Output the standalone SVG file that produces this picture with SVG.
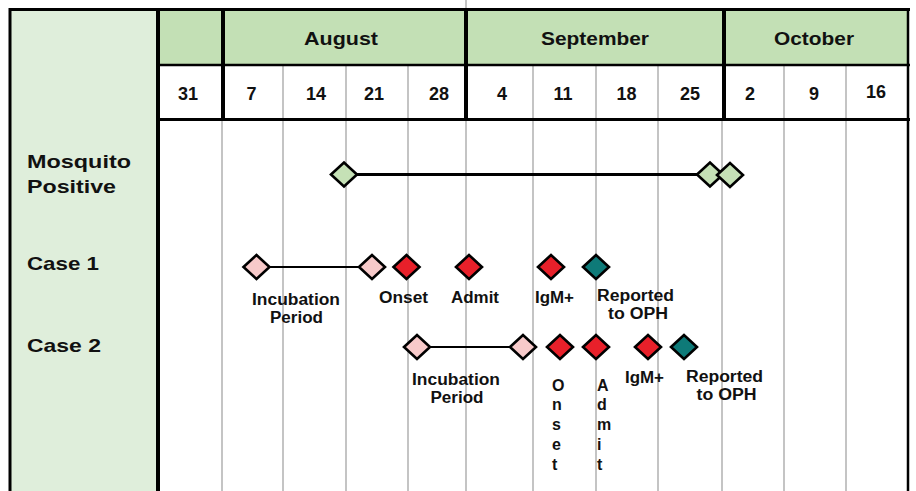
<svg xmlns="http://www.w3.org/2000/svg" xmlns:xlink="http://www.w3.org/1999/xlink" width="916" height="491" viewBox="0 0 916 491">
<style>
text{font-family:"Liberation Sans",Arial,sans-serif;font-weight:bold;fill:#111}
.hdr{font-size:18px;text-anchor:middle}
.dt{font-size:18px;text-anchor:middle}
.row{font-size:19px}
.lb{font-size:16px;text-anchor:middle}
.vt{font-size:16px}
.grid{stroke:#c4c4c4;stroke-width:2}
.thick{stroke:#000;stroke-width:4}
.dia{stroke:#000;stroke-width:2.6;stroke-linejoin:miter}
.green{fill:#c5e1b6}
.pink{fill:#f7caca}
.red{fill:#e8202a}
.teal{fill:#0e7a78}
</style>
<defs>
<path id="d" d="M-13,0 L0,-12 L13,0 L0,12 Z"/>
</defs>
<rect width="916" height="491" fill="#fff"/>
<g id="table">
<rect x="10" y="10" width="148" height="481" fill="#dfeedb"/>
<rect x="158" y="10" width="750" height="55" fill="#c3e0b5"/>
<line x1="466" y1="0" x2="466" y2="9" class="grid"/>
<g class="grid">
<line x1="222" y1="120" x2="222" y2="491"/>
<line x1="283" y1="65" x2="283" y2="491"/>
<line x1="346" y1="65" x2="346" y2="491"/>
<line x1="408" y1="65" x2="408" y2="491"/>
<line x1="466" y1="120" x2="466" y2="491"/>
<line x1="533" y1="65" x2="533" y2="491"/>
<line x1="596" y1="65" x2="596" y2="491"/>
<line x1="658" y1="65" x2="658" y2="491"/>
<line x1="722" y1="120" x2="722" y2="491"/>
<line x1="784" y1="65" x2="784" y2="491"/>
<line x1="846" y1="65" x2="846" y2="491"/>
</g>
<g class="thick">
<line x1="223" y1="10" x2="223" y2="120"/>
<line x1="466" y1="10" x2="466" y2="120"/>
<line x1="724" y1="10" x2="724" y2="120"/>
<line x1="158" y1="10" x2="158" y2="491"/>
</g>
<line x1="10" y1="9.5" x2="910" y2="9.5" stroke="#000" stroke-width="3"/>
<line x1="10" y1="8" x2="10" y2="491" stroke="#000" stroke-width="3"/>
<line x1="908" y1="8" x2="908" y2="491" stroke="#000" stroke-width="2.5"/>
<line x1="158" y1="65" x2="910" y2="65" stroke="#000" stroke-width="2.5"/>
<line x1="158" y1="119.5" x2="910" y2="119.5" stroke="#000" stroke-width="3"/>
<text class="hdr" x="341" y="45" textLength="74" lengthAdjust="spacingAndGlyphs">August</text>
<text class="hdr" x="595" y="45" textLength="108" lengthAdjust="spacingAndGlyphs">September</text>
<text class="hdr" x="814" y="45" textLength="80" lengthAdjust="spacingAndGlyphs">October</text>
<text class="dt" x="188" y="100">31</text>
<text class="dt" x="251.5" y="100">7</text>
<text class="dt" x="316" y="100">14</text>
<text class="dt" x="374" y="100">21</text>
<text class="dt" x="439" y="100">28</text>
<text class="dt" x="502" y="100">4</text>
<text class="dt" x="563" y="100">11</text>
<text class="dt" x="626.5" y="100">18</text>
<text class="dt" x="690" y="100">25</text>
<text class="dt" x="750" y="100">2</text>
<text class="dt" x="814" y="100">9</text>
<text class="dt" x="876" y="98">16</text>
<text class="row" x="27" y="168" textLength="104" lengthAdjust="spacingAndGlyphs">Mosquito</text>
<text class="row" x="27" y="192.5" textLength="89" lengthAdjust="spacingAndGlyphs">Positive</text>
<text class="row" x="27" y="270" textLength="72" lengthAdjust="spacingAndGlyphs">Case 1</text>
<text class="row" x="27" y="352" textLength="74" lengthAdjust="spacingAndGlyphs">Case 2</text>
</g>
<g id="connectors">
<line x1="356" y1="174.5" x2="698" y2="174.5" stroke="#000" stroke-width="3"/>
<line x1="268" y1="267" x2="360" y2="267" stroke="#000" stroke-width="2"/>
<line x1="428" y1="347" x2="511" y2="347" stroke="#000" stroke-width="2"/>
</g>
<g id="mosq-start"><use xlink:href="#d" class="dia green" x="344" y="174.5"/></g>
<g id="mosq-end1"><use xlink:href="#d" class="dia green" x="710" y="174.5"/></g>
<g id="mosq-end2"><use xlink:href="#d" class="dia green" x="730" y="175"/></g>
<g id="c1-inc-start"><use xlink:href="#d" class="dia pink" x="256.5" y="267"/></g>
<g id="c1-inc-end"><use xlink:href="#d" class="dia pink" x="372" y="267"/></g>
<g id="c1-onset"><use xlink:href="#d" class="dia red" x="406.5" y="267"/><text class="lb" x="403.5" y="302.5" textLength="49" lengthAdjust="spacingAndGlyphs">Onset</text></g>
<g id="c1-admit"><use xlink:href="#d" class="dia red" x="469" y="267"/><text class="lb" x="475" y="302.5" textLength="48" lengthAdjust="spacingAndGlyphs">Admit</text></g>
<g id="c1-igm"><use xlink:href="#d" class="dia red" x="551" y="267"/><text class="lb" x="554.5" y="303" textLength="39" lengthAdjust="spacingAndGlyphs">IgM+</text></g>
<g id="c1-report"><use xlink:href="#d" class="dia teal" x="596" y="267"/><text class="lb" x="635.5" y="301" textLength="77" lengthAdjust="spacingAndGlyphs">Reported</text><text class="lb" x="638" y="319" textLength="60" lengthAdjust="spacingAndGlyphs">to OPH</text></g>
<g id="c1-inc-label"><text class="lb" x="296" y="305" textLength="88" lengthAdjust="spacingAndGlyphs">Incubation</text><text class="lb" x="296.5" y="323" textLength="53" lengthAdjust="spacingAndGlyphs">Period</text></g>
<g id="c2-inc-start"><use xlink:href="#d" class="dia pink" x="417" y="347"/></g>
<g id="c2-inc-end"><use xlink:href="#d" class="dia pink" x="523" y="347"/></g>
<g id="c2-onset"><use xlink:href="#d" class="dia red" x="560" y="347"/><text class="vt" x="552"><tspan x="552" y="390.5">O</tspan><tspan x="552" y="410">n</tspan><tspan x="552" y="430">s</tspan><tspan x="552" y="450">e</tspan><tspan x="552" y="469.5">t</tspan></text></g>
<g id="c2-admit"><use xlink:href="#d" class="dia red" x="596" y="347"/><text class="vt" x="597"><tspan x="597" y="390.5">A</tspan><tspan x="597" y="410">d</tspan><tspan x="597" y="430">m</tspan><tspan x="597" y="450">i</tspan><tspan x="597" y="469.5">t</tspan></text></g>
<g id="c2-igm"><use xlink:href="#d" class="dia red" x="648" y="347"/><text class="lb" x="644.5" y="383" textLength="39" lengthAdjust="spacingAndGlyphs">IgM+</text></g>
<g id="c2-report"><use xlink:href="#d" class="dia teal" x="684" y="347"/><text class="lb" x="724.5" y="382" textLength="77" lengthAdjust="spacingAndGlyphs">Reported</text><text class="lb" x="726.5" y="400" textLength="60" lengthAdjust="spacingAndGlyphs">to OPH</text></g>
<g id="c2-inc-label"><text class="lb" x="456" y="385" textLength="88" lengthAdjust="spacingAndGlyphs">Incubation</text><text class="lb" x="457" y="403" textLength="53" lengthAdjust="spacingAndGlyphs">Period</text></g>
</svg>
